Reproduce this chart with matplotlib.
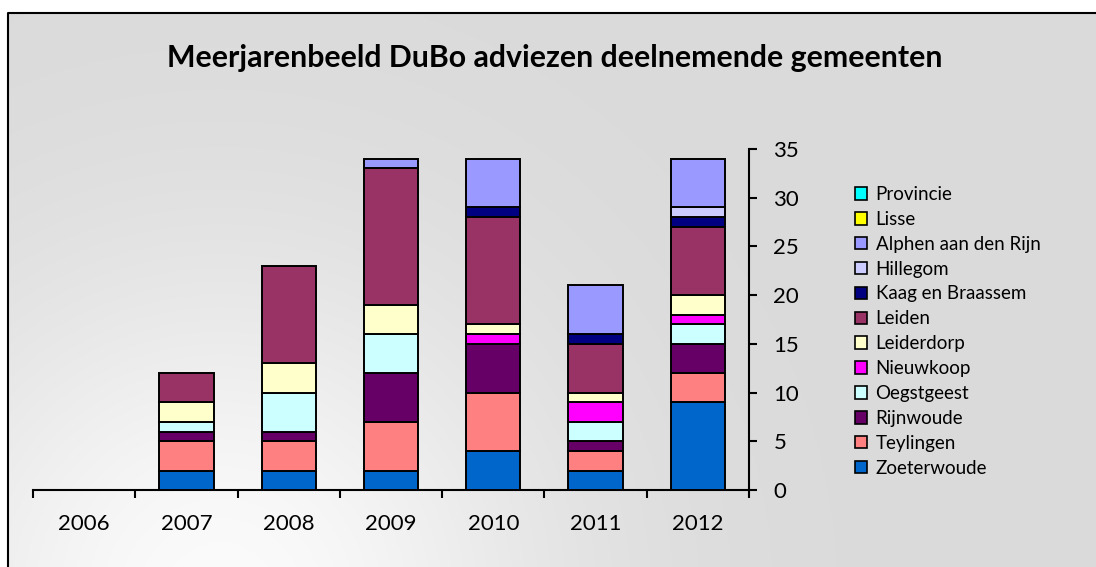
import numpy as np
import matplotlib
matplotlib.use('Agg')
import matplotlib.pyplot as plt
from matplotlib.patches import Patch

plt.rcParams['font.family'] = ['Lato', 'DejaVu Sans']

years = ['2006', '2007', '2008', '2009', '2010', '2011', '2012']

# stacking order, bottom to top
zoeterwoude = [0, 2, 2, 2, 4, 2, 9]
teylingen = [0, 3, 3, 5, 6, 2, 3]
rijnwoude = [0, 1, 1, 5, 5, 1, 3]
oegstgeest = [0, 1, 4, 4, 0, 2, 2]
nieuwkoop = [0, 0, 0, 0, 1, 2, 1]
leiderdorp = [0, 2, 3, 3, 1, 1, 2]
leiden = [0, 3, 10, 14, 11, 5, 7]
kaag = [0, 0, 0, 0, 1, 1, 1]
hillegom = [0, 0, 0, 0, 0, 0, 1]
alphen = [0, 0, 0, 1, 5, 5, 5]
lisse = [0, 0, 0, 0, 0, 0, 0]
provincie = [0, 0, 0, 0, 0, 0, 0]

series = [
    ('Zoeterwoude', zoeterwoude, '#0066CC'),
    ('Teylingen', teylingen, '#FF8080'),
    ('Rijnwoude', rijnwoude, '#660066'),
    ('Oegstgeest', oegstgeest, '#CCFFFF'),
    ('Nieuwkoop', nieuwkoop, '#FF00FF'),
    ('Leiderdorp', leiderdorp, '#FFFFCC'),
    ('Leiden', leiden, '#993366'),
    ('Kaag en Braassem', kaag, '#000080'),
    ('Hillegom', hillegom, '#CCCCFF'),
    ('Alphen aan den Rijn', alphen, '#9999FF'),
    ('Lisse', lisse, '#FFFF00'),
    ('Provincie', provincie, '#00FFFF'),
]

W, H = 1096, 567
fig = plt.figure(figsize=(W / 100, H / 100), dpi=100)
fig.patch.set_facecolor('white')

# background with soft radial gradient
bg = fig.add_axes([0, 0, 1, 1], zorder=-10)
yy, xx = np.mgrid[0:H, 0:W]
d = np.hypot(xx - 220, yy - 600)
val = (218 + 33 * np.exp(-(d / 330) ** 2)) / 255
img = np.dstack([val, val, val])
img[:13, :] = 1
img[:, :8] = 1
bg.imshow(img, extent=[0, W, H, 0], aspect='auto', interpolation='bilinear')
bg.plot([8, 8, W + 5], [H + 5, 13, 13], color='black', lw=1.5)
bg.set_xlim(0, W)
bg.set_ylim(H, 0)
bg.axis('off')

ax = fig.add_axes([33 / W, 1 - 490 / H, (749 - 33) / W, (490 - 149) / H])
ax.set_facecolor('none')

x = np.arange(len(years))
bottom = np.zeros(len(years))
handles = []
for name, vals, color in series:
    v = np.array(vals, dtype=float)
    m = v > 0
    ax.bar(x[m], v[m], bottom=bottom[m], width=0.53, color=color,
           edgecolor='black', linewidth=1.4, zorder=3)
    bottom += v
    handles.append(Patch(facecolor=color, edgecolor='black', linewidth=1.2, label=name))

ax.set_xlim(-0.5, 6.5)
ax.set_ylim(0, 35)

for s in ['left', 'top']:
    ax.spines[s].set_visible(False)
for s in ['right', 'bottom']:
    ax.spines[s].set_linewidth(1.5)

ax.yaxis.tick_right()
ax.set_yticks(np.arange(0, 36, 5))
ax.tick_params(axis='y', direction='out', length=5.5, width=1.5, pad=12, labelsize=16)

ax.set_xticks(np.arange(-0.5, 7, 1))
ax.set_xticklabels([])
ax.set_xticks(x, minor=True)
ax.set_xticklabels(years, minor=True)
ax.tick_params(axis='x', which='major', direction='out', length=5.5, width=1.5)
ax.tick_params(axis='x', which='minor', length=0, pad=17, labelsize=16)

fig.text(555 / W, 1 - 58 / H, 'Meerjarenbeeld DuBo adviezen deelnemende gemeenten',
         ha='center', va='center', fontsize=21.8, fontweight='bold')

fig.legend(handles=handles[::-1], loc='upper left',
           bbox_to_anchor=(855 / W, 1 - 186 / H), frameon=False,
           fontsize=13.5, handlelength=0.65, handleheight=0.65,
           handletextpad=0.45, labelspacing=0.42, borderpad=0, borderaxespad=0)

fig.savefig('out.png', dpi=100)
